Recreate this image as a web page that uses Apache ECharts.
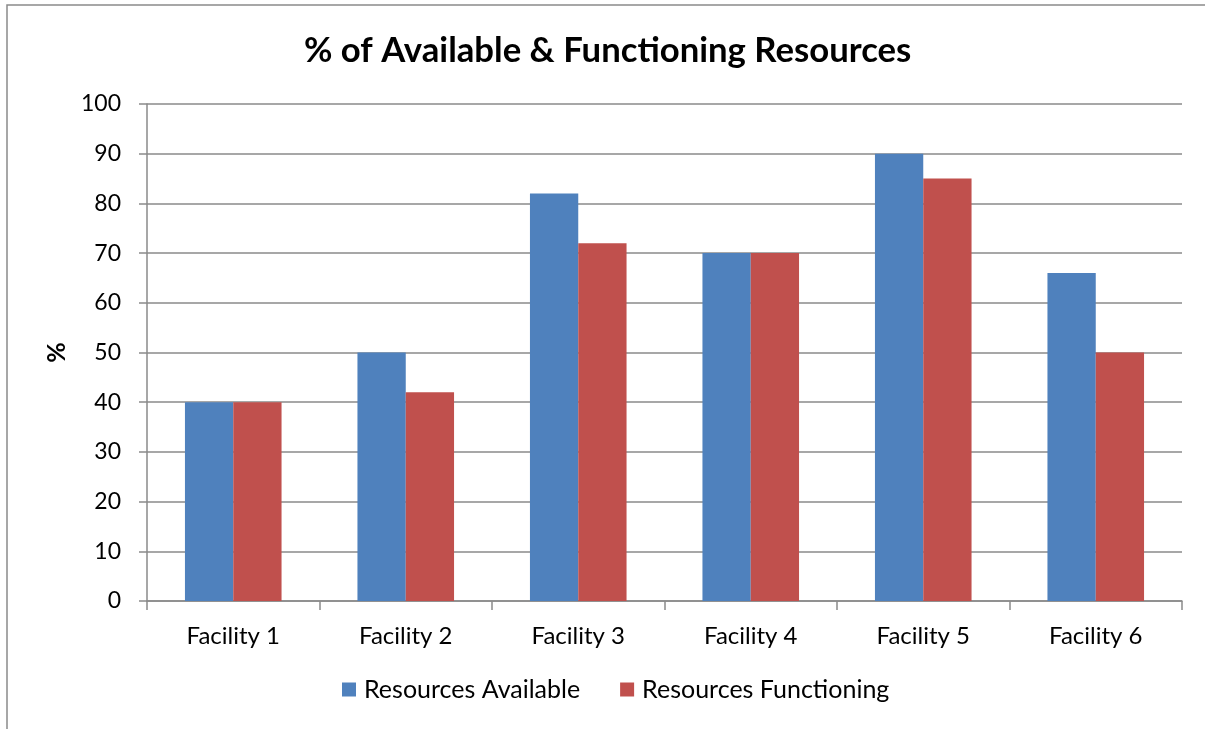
<!DOCTYPE html>
<html><head><meta charset="utf-8">
<script src="https://cdn.jsdelivr.net/npm/echarts@6/dist/echarts.min.js"></script>
<style>html,body{margin:0;padding:0;background:#fff}#c{width:1205px;height:729px}</style>
</head><body><div id="c"></div>
<script>
const categories = ['Facility 1','Facility 2','Facility 3','Facility 4','Facility 5','Facility 6'];
const available = [40, 50, 82, 70, 90, 66];
const functioning = [40, 42, 72, 70, 85, 50];
const seriesNames = ['Resources Available','Resources Functioning'];
const FONT = 'Lato, "Open Sans", sans-serif';
const chart = echarts.init(document.getElementById('c'));
chart.setOption({
  animation: false,
  backgroundColor: '#fff',
  graphic: [{type:'rect', shape:{x:7,y:5,width:1210,height:740}, style:{fill:'none', stroke:'#8a8a8a', lineWidth:1.5}, silent:true}],
  title: {text: '% of Available & Functioning Resources', left: 299, top: 28,
    textStyle:{fontFamily: FONT, fontWeight:'bold', fontSize:34.7, color:'#000'}},
  legend: {bottom: 22, left: 337, itemWidth:14, itemHeight:14, itemGap:40, icon:'rect',
    textStyle:{fontFamily: FONT, fontSize:25, color:'#000', padding:[0,0,0,3]}, data: seriesNames},
  grid: {left:147, right:23, top:104, bottom:128},
  xAxis: {type:'category', data: categories,
    axisLine:{lineStyle:{color:'#8a8a8a', width:1.5}},
    axisTick:{show:true, length:9, lineStyle:{color:'#8a8a8a', width:1.5}},
    axisLabel:{fontFamily: FONT, fontSize:24, color:'#000', margin:23}},
  yAxis: {type:'value', min:0, max:100, interval:10, name:'%', nameLocation:'middle', nameGap:78, nameRotate:90,
    nameTextStyle:{fontFamily: FONT, fontWeight:'bold', fontSize:25, color:'#000'},
    axisLine:{show:true, lineStyle:{color:'#8a8a8a', width:1.5}},
    axisTick:{show:true, length:8, lineStyle:{color:'#8a8a8a', width:1.5}},
    axisLabel:{fontFamily: FONT, fontSize:23, color:'#000', margin:26},
    splitLine:{lineStyle:{color:'#8a8a8a', width:1.5}}},
  series: [
    {name: seriesNames[0], type:'bar', data: available, barGap:'0%', barCategoryGap:'44%', itemStyle:{color:'#4F81BD'}},
    {name: seriesNames[1], type:'bar', data: functioning, barGap:'0%', barCategoryGap:'44%', itemStyle:{color:'#C0504D'}}
  ]
});
</script></body></html>
